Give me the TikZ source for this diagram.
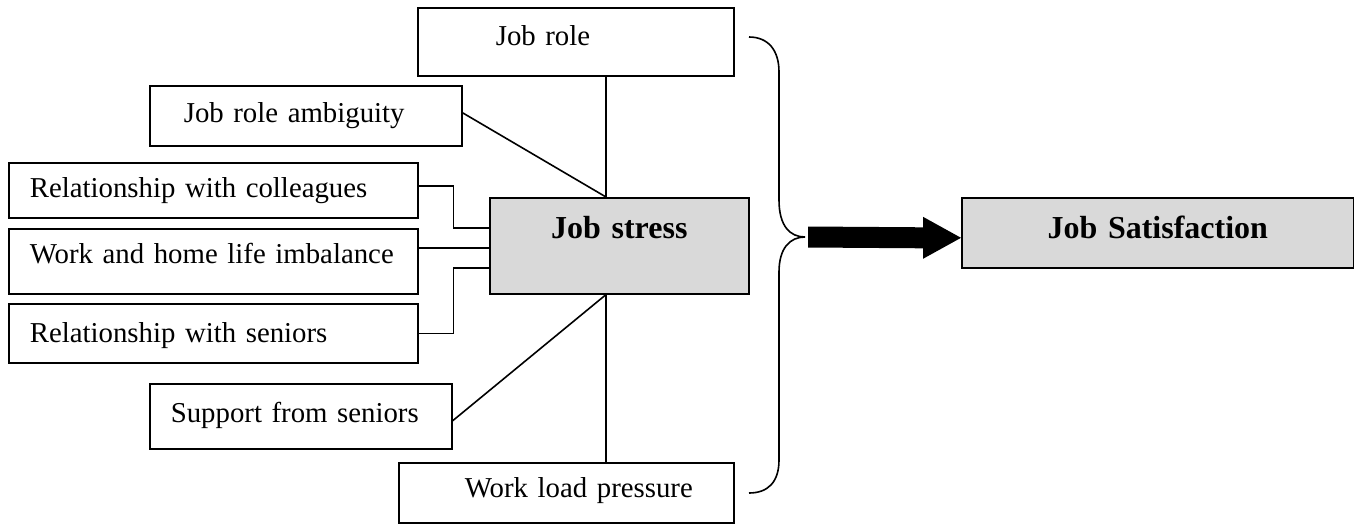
\documentclass[tikz,border=0pt]{standalone}
\usepackage{fontspec}
\setmainfont{Liberation Serif}
\definecolor{boxgray}{HTML}{D9D9D9}
\begin{document}
\begin{tikzpicture}[x=1pt,y=-1pt,
  box/.style={draw, line width=1.6pt, anchor=north west, inner ysep=0pt, align=left,
    text height=20pt, font=\fontsize{28.8}{34}\selectfont},
  gbox/.style={draw, line width=1.6pt, anchor=north west, inner sep=0pt, fill=boxgray,
    align=center, text height=22pt, font=\fontsize{32}{38}\selectfont\bfseries},
  conn/.style={line width=1.6pt},
  brace/.style={line width=1.6pt},
  bigarrow/.style={fill=black},
]
\useasboundingbox (0,0) rectangle (1354,523);

% factor boxes
\node[box, minimum width=316pt, minimum height=68pt, inner xsep=78pt, text width=160pt, text depth=12pt] (jobrole) at (417,7) {\mbox{Job role}};
\node[box, minimum width=312pt, minimum height=60pt, inner xsep=34pt, text width=244pt, text depth=6pt] (ambig) at (149,85) {\mbox{Job role ambiguity}};
\node[box, minimum width=409pt, minimum height=55pt, inner xsep=21pt, text width=367pt, text depth=5pt] (coll) at (8,162) {\mbox{Relationship with colleagues}};
\node[box, minimum width=409pt, minimum height=65pt, inner xsep=21pt, text width=367pt, text depth=15pt] (work) at (8,228) {\mbox{Work and home life imbalance}};
\node[box, minimum width=409pt, minimum height=59pt, inner xsep=21pt, text width=367pt, text depth=1pt] (sen) at (8,303) {\mbox{Relationship with seniors}};
\node[box, minimum width=302pt, minimum height=65pt, inner xsep=21pt, text width=260pt, text depth=7pt] (supp) at (149,383) {\mbox{Support from seniors}};
\node[box, minimum width=335pt, minimum height=60pt, inner xsep=66pt, text width=203pt, text depth=10pt] (load) at (398,462) {\mbox{Work load pressure}};

% central boxes
\node[gbox, minimum width=259pt, minimum height=96pt, text width=259pt, text depth=36pt] (stress) at (489,197) {\mbox{Job stress}};
\node[gbox, minimum width=392pt, minimum height=70pt, text width=392pt, text depth=10pt] (sat) at (961,197) {\mbox{Job Satisfaction}};

% attachment points on Job stress
\coordinate (st) at ([xshift=117pt]stress.north west);
\coordinate (sb) at ([xshift=117pt]stress.south west);
\coordinate (s1) at ([yshift=18pt]stress.west);
\coordinate (s2) at ([yshift=-2pt]stress.west);
\coordinate (s3) at ([yshift=-22pt]stress.west);

% connectors
\draw[conn] (jobrole.south -| st) -- (st);
\draw[conn] ([yshift=3pt]ambig.east) -- (st);
\draw[conn] ([yshift=4.5pt]coll.east) -- ++(35,0) |- (s1);
\draw[conn] (work.east |- s2) -- (s2);
\draw[conn] (sen.east) -- ++(35,0) |- (s3);
\draw[conn] ([yshift=-4.5pt]supp.east) -- (sb);
\draw[conn] (load.north -| sb) -- (sb);

% brace
\coordinate (tip) at (805,237);
\draw[brace] (749,37) .. controls (768,37) and (779,50) .. (779,72) -- (779,200)
  .. controls (779,226) and (790,237) .. (tip)
  .. controls (790,237) and (779,248) .. (779,272) -- (779,460)
  .. controls (779,482) and (768,493) .. (749,493);

% block arrow
\coordinate (satin) at ([yshift=-5pt]sat.west);
\fill[bigarrow] ([xshift=3pt,yshift=10.5pt]tip) -- ([xshift=-38pt,yshift=10.5pt]satin)
  -- ([xshift=-38pt,yshift=21pt]satin) -- (satin) -- ([xshift=-38pt,yshift=-21pt]satin)
  -- ([xshift=-38pt,yshift=-10.5pt]satin) -- ([xshift=3pt,yshift=-10.5pt]tip) -- cycle;
\end{tikzpicture}
\end{document}
